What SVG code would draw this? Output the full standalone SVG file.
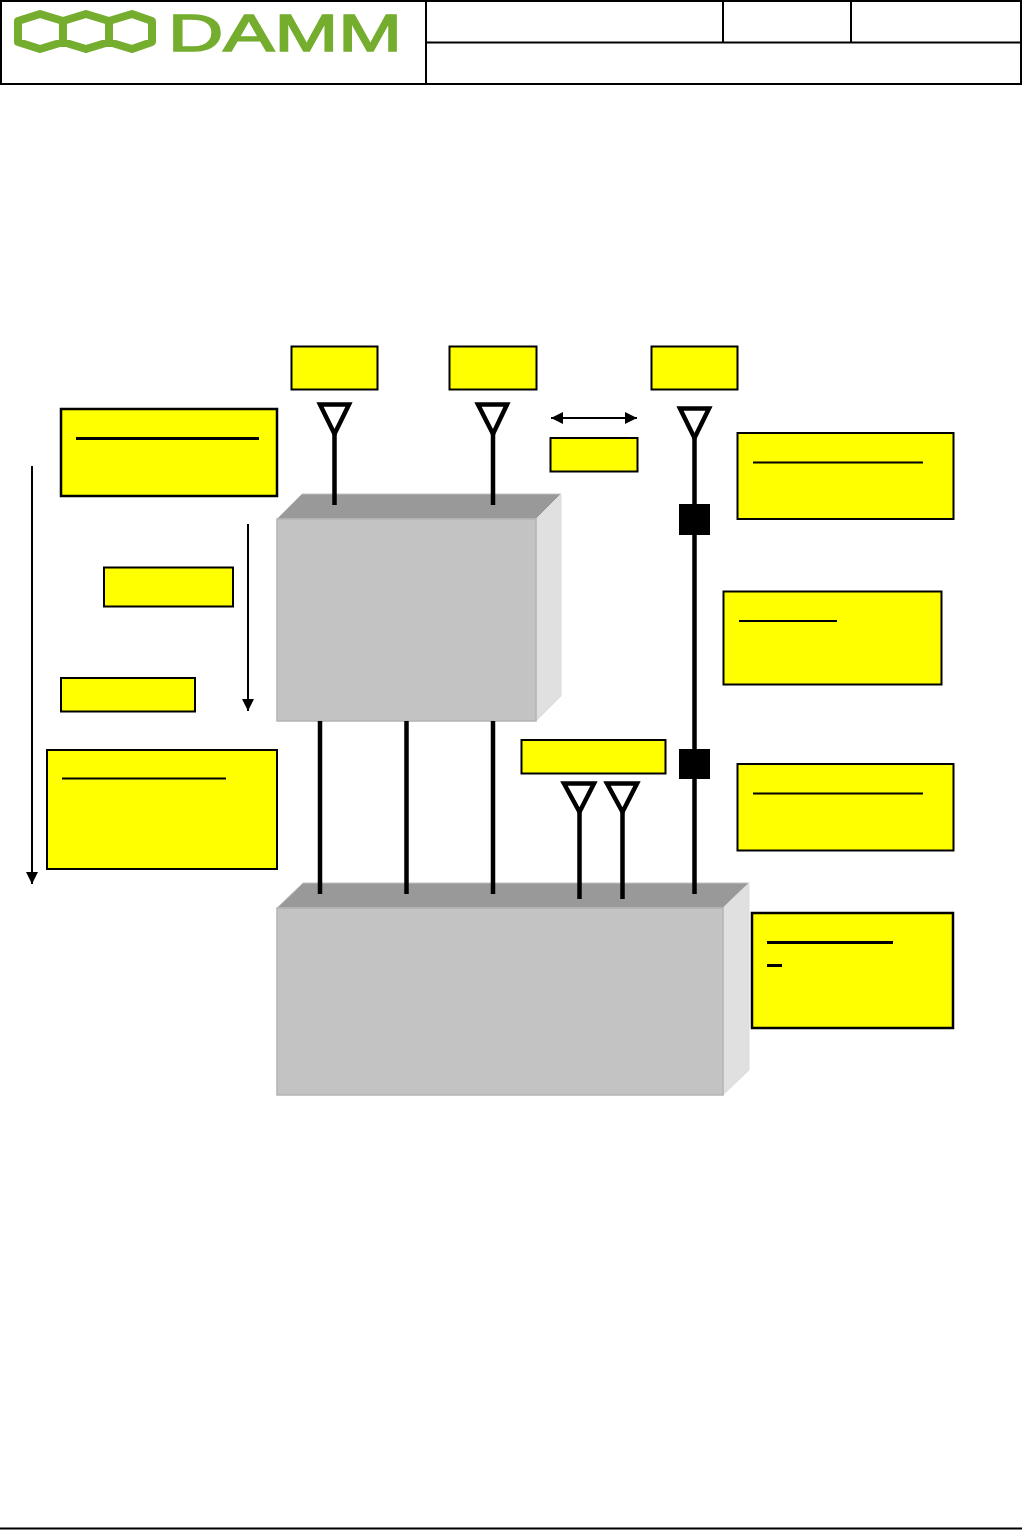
<svg xmlns="http://www.w3.org/2000/svg" width="1022" height="1530" viewBox="0 0 1022 1530">
<style>
.lab{fill:#ff0;stroke:#000;stroke-width:2}
.lab2{fill:#ff0;stroke:#000;stroke-width:2.500}
.u{stroke:#000;stroke-width:2;fill:none}
.u3{stroke:#000;stroke-width:3;fill:none}
.front{fill:#c3c3c3;stroke:#b4b4b4;stroke-width:1.5}
.top{fill:#999;stroke:#c0c0c0;stroke-width:1}
.side{fill:#e0e0e0;stroke:#dcdcdc;stroke-width:1}
.mast{stroke:#000;stroke-width:4.500;fill:none}
.ant{fill:#fff;stroke:#000;stroke-width:4.500}
.arrow{stroke:#000;stroke-width:2;fill:none}
.rule{stroke:#000;stroke-width:2;fill:none}
</style>
<defs>
<marker id="ah" viewBox="0 0 12 12" refX="12" refY="6" markerWidth="12" markerHeight="12" markerUnits="userSpaceOnUse" orient="auto-start-reverse"><path d="M0 0L12 6L0 12Z" fill="#000"/></marker>
</defs>
<rect width="1022" height="1530" fill="#fff"/>
<g id="header">
<rect x="1" y="1" width="1020" height="83" fill="#fff" stroke="#000" stroke-width="2"/>
<path class="rule" d="M426 1V84M723 1V42M851 1V42M426 42.500H1021"/>
</g>
<g id="logo">
<path d="M18 21L40 14L63 21V42L40 49L18 42ZM63 21L86 14L109 21V42L86 49L63 42ZM109 21L132 14L152 21V42L132 49L109 42Z" fill="none" stroke="#75ad2e" stroke-width="8" stroke-linejoin="round"/>
<text x="168" y="51" font-family="'Liberation Sans',Arial,sans-serif" font-size="52" fill="#75ad2e" stroke="#75ad2e" stroke-width="1.500" textLength="234" lengthAdjust="spacingAndGlyphs">DAMM</text>
</g>
<g id="box-upper">
<polygon class="top" points="277,519 302,494 561,494 536,519"/>
<polygon class="side" points="536,519 561,494 561,696 536,721"/>
<rect class="front" x="277" y="519" width="259" height="202"/>
</g>
<g id="box-lower">
<polygon class="top" points="277,908 303,883 749,883 723,908"/>
<polygon class="side" points="723,908 749,883 749,1070 723,1095"/>
<rect class="front" x="277" y="908" width="446" height="187"/>
</g>
<g id="connectors">
<path class="mast" d="M334.500 432V505M493 432V505M694.500 436V894M320 721V894M406.500 721V894M493 721V894M579.500 812V899M622.500 812V899"/>
<path class="arrow" d="M32 466V884" marker-end="url(#ah)"/>
<path class="arrow" d="M248 524V711" marker-end="url(#ah)"/>
<path class="arrow" d="M551 418H637" marker-start="url(#ah)" marker-end="url(#ah)"/>
</g>
<g id="ant-1"><polygon class="ant" points="320,404.500 349,404.500 334.500,434"/></g>
<g id="ant-2"><polygon class="ant" points="478,404.500 507,404.500 493,434"/></g>
<g id="ant-3"><polygon class="ant" points="680,408.500 709,408.500 694.500,438"/></g>
<g id="ant-4"><polygon class="ant" points="564,783.500 594,783.500 579.500,812"/></g>
<g id="ant-5"><polygon class="ant" points="607,783.500 637,783.500 622.500,812"/></g>
<g id="joint-1"><rect x="679" y="504" width="31" height="31" fill="#000"/></g>
<g id="joint-2"><rect x="679" y="749" width="31" height="30" fill="#000"/></g>
<g id="label-a"><rect class="lab" x="291.500" y="346.500" width="86" height="43"/></g>
<g id="label-b"><rect class="lab" x="449.500" y="346.500" width="87" height="43"/></g>
<g id="label-c"><rect class="lab" x="651.500" y="346.500" width="86" height="43"/></g>
<g id="label-d"><rect class="lab" x="550.500" y="438" width="87" height="33.500"/></g>
<g id="label-e"><rect class="lab2" x="61" y="409" width="216" height="87"/><path class="u3" d="M76 438.500H259"/></g>
<g id="label-f"><rect class="lab" x="104" y="567.500" width="129" height="39"/></g>
<g id="label-g"><rect class="lab" x="61" y="678" width="134" height="33.500"/></g>
<g id="label-h"><rect class="lab" x="47" y="750" width="230" height="119"/><path class="u" d="M62 778.500H226"/></g>
<g id="label-i"><rect class="lab" x="521.500" y="740" width="144" height="33.500"/></g>
<g id="label-j"><rect class="lab" x="737.500" y="433" width="216" height="86"/><path class="u" d="M753 462.500H923"/></g>
<g id="label-k"><rect class="lab" x="723.500" y="591.500" width="218" height="93"/><path class="u" d="M739 621H837"/></g>
<g id="label-l"><rect class="lab" x="737.500" y="764" width="216" height="86.500"/><path class="u" d="M753 793.500H923"/></g>
<g id="label-m"><rect class="lab2" x="752" y="913" width="201" height="115"/><path class="u3" d="M767 942.500H893M767 965.500H782"/></g>
<g id="footer"><path d="M0 1528.500H1022" stroke="#000" stroke-width="2"/></g>
</svg>
